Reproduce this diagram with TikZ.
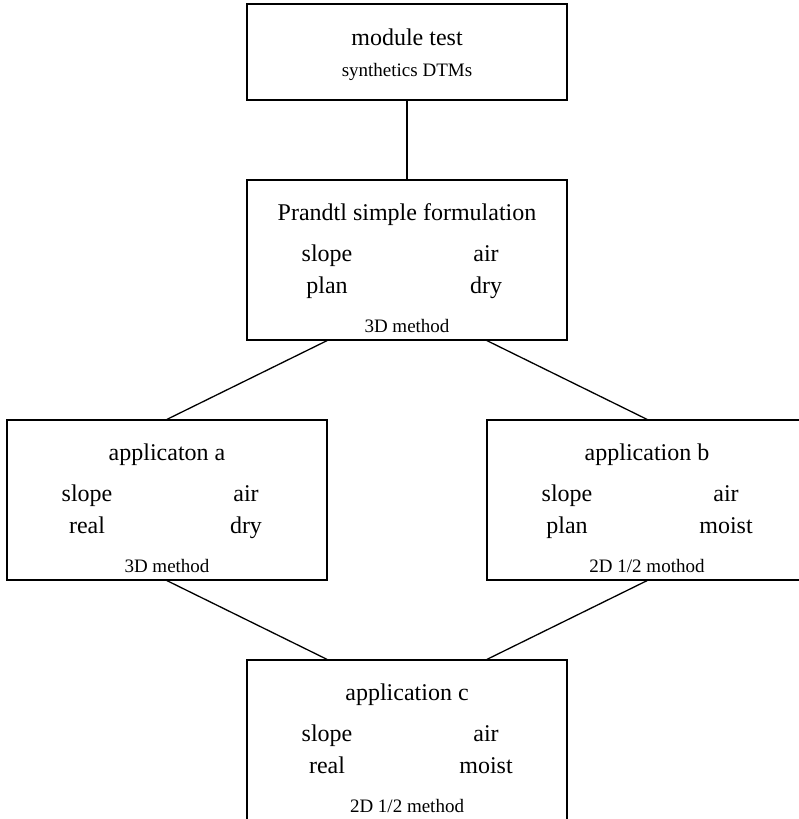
\documentclass[tikz,border=0pt]{standalone}
\usepackage{fontspec}
\setmainfont{Liberation Serif}
\tikzset{
  box/.style={draw, line width=1.3pt, minimum width=320pt, minimum height=160pt, inner sep=0pt},
  big/.style={font=\fontsize{24}{28}\selectfont, anchor=base, inner sep=0pt},
  small/.style={font=\fontsize{19}{22}\selectfont, anchor=base, inner sep=0pt},
  conn/.style={line width=1.3pt}
}
\begin{document}
\begin{tikzpicture}[x=1pt,y=-1pt]
\useasboundingbox (0,0) rectangle (799,819);
% boxes
\node[box, minimum height=96pt] (top) at (407,52) {};
\node[box] (P) at (407,260) {};
\node[box] (A) at (167,500) {};
\node[box] (B) at (647,500) {};
\node[box] (C) at (407,740) {};
% top box text
\node[big] (topt) at (407,45) {module test};
\node[small] (tops) at (407,76) {synthetics DTMs};
% Prandtl
\node[big] (Pt) at (407,220) {Prandtl simple formulation};
\node[big] (P1) at (327,261) {slope};
\node[big] (P2) at (486,261) {air};
\node[big] (P3) at (327,293) {plan};
\node[big] (P4) at (486,293) {dry};
\node[small] (Pm) at (407,332) {3D method};
% A
\node[big] (At) at (167,460) {applicaton a};
\node[big] (A1) at (87,501) {slope};
\node[big] (A2) at (246,501) {air};
\node[big] (A3) at (87,533) {real};
\node[big] (A4) at (246,533) {dry};
\node[small] (Am) at (167,572) {3D method};
% B
\node[big] (Bt) at (647,460) {application b};
\node[big] (B1) at (567,501) {slope};
\node[big] (B2) at (726,501) {air};
\node[big] (B3) at (567,533) {plan};
\node[big] (B4) at (726,533) {moist};
\node[small] (Bm) at (647,572) {2D 1/2 mothod};
% C
\node[big] (Ct) at (407,700) {application c};
\node[big] (C1) at (327,741) {slope};
\node[big] (C2) at (486,741) {air};
\node[big] (C3) at (327,773) {real};
\node[big] (C4) at (486,773) {moist};
\node[small] (Cm) at (407,812) {2D 1/2 method};
% connectors
\draw[conn] (top.south) -- (P.north);
\draw[conn] ([xshift=-80pt]P.south) -- (A.north);
\draw[conn] ([xshift=80pt]P.south) -- (B.north);
\draw[conn] (A.south) -- ([xshift=-80pt]C.north);
\draw[conn] (B.south) -- ([xshift=80pt]C.north);
\end{tikzpicture}
\end{document}
